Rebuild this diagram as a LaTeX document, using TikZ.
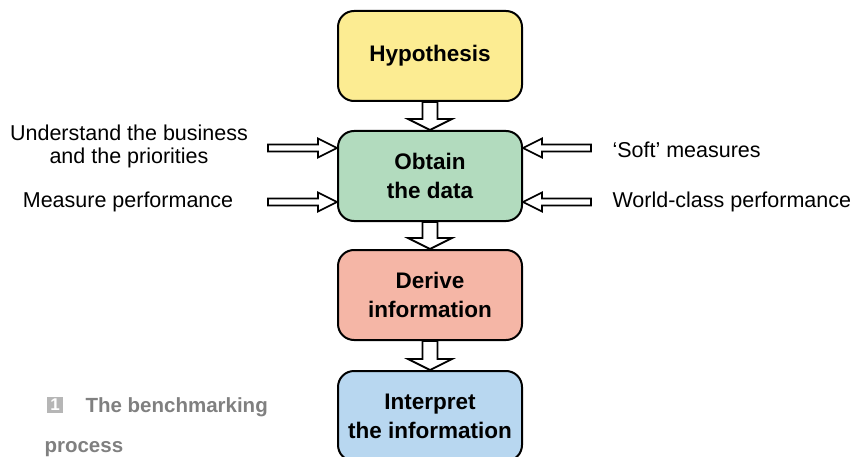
\documentclass[tikz,border=0pt]{standalone}
\usepackage{fontspec}
\setmainfont{Liberation Sans}
\usetikzlibrary{calc}

\definecolor{hypyellow}{RGB}{252,236,146}
\definecolor{datagreen}{RGB}{178,219,190}
\definecolor{derivered}{RGB}{245,182,166}
\definecolor{interpblue}{RGB}{184,215,240}
\definecolor{capgray}{RGB}{128,128,128}
\definecolor{numgray}{RGB}{182,182,182}

\def\bX{430}
\def\bW{184}
\def\bH{90}

\tikzset{
  stage/.style={draw=black, line width=2pt, rounded corners=16pt,
    minimum width=\bW pt, minimum height=\bH pt, align=center,
    font=\fontsize{22.5}{29}\selectfont\bfseries},
  side/.style={align=center, font=\fontsize{21.5}{23}\selectfont},
  blk/.style n args={4}{draw=black, fill=white, line width=#1, line join=miter,
    to path={let \p1=($(\tikztotarget)!#4!(\tikztostart)$) in
      ($(\tikztostart)!#2!90:(\tikztotarget)$) -- ($(\p1)!#2!-90:(\tikztostart)$)
      -- ($(\p1)!#3!-90:(\tikztostart)$) -- (\tikztotarget)
      -- ($(\p1)!#3!90:(\tikztostart)$) -- ($(\p1)!#2!90:(\tikztostart)$)
      -- ($(\tikztostart)!#2!-90:(\tikztotarget)$) -- cycle}},
  down/.style={blk={1.8pt}{7.5pt}{22pt}{11pt}},
  sidearrow/.style={blk={1.6pt}{3.5pt}{9.5pt}{19pt}},
}

\begin{document}
\begin{tikzpicture}[x=1pt, y=-1pt]
    \useasboundingbox (0,0) rectangle (853,457);

    %%   stages
    \node[stage, fill=hypyellow]  (H) at (\bX, 56) {Hypothesis};
    \node[stage, fill=datagreen]  (O) at (\bX,176) {Obtain\\the data};
    \node[stage, fill=derivered]  (D) at (\bX,295) {Derive\\information};
    \node[stage, fill=interpblue] (I) at (\bX,416) {Interpret\\the information};

    \path[down] (H.south) to (O.north);
    \path[down] (O.south) to (D.north);
    \path[down] (D.south) to (I.north);

    %%   inputs
    \node[side]             (tU) at (129,146) {Understand the business\\and the priorities};
    \node[side]             (tM) at (128,202) {Measure performance};
    \node[side, anchor=west] (tS) at (609,150) {‘Soft’ measures};
    \node[side, anchor=west] (tW) at (609,202) {World-class performance};

    \coordinate (L1) at (268,148);
    \coordinate (L2) at (268,202);
    \coordinate (R1) at (591,148);
    \coordinate (R2) at (591,202);

    \coordinate (OL1) at (O.west |- L1);
    \coordinate (OL2) at (O.west |- L2);
    \coordinate (OR1) at (O.east |- R1);
    \coordinate (OR2) at (O.east |- R2);

    \path[sidearrow] (L1) to (OL1);
    \path[sidearrow] (L2) to (OL2);
    \path[sidearrow] (R1) to (OR1);
    \path[sidearrow] (R2) to (OR2);

    %%   caption
    \node[fill=numgray, text=white, minimum size=16pt, inner sep=0pt,
          font=\fontsize{17}{17}\selectfont\bfseries] (num) at (55,405) {1};
    \node[anchor=base west, text=capgray, font=\fontsize{20.5}{24}\selectfont\bfseries]
          (cap1) at (82,412) {The benchmarking};
    \node[anchor=base west, text=capgray, font=\fontsize{20.5}{24}\selectfont\bfseries]
          (cap2) at (41,452) {process};

  \end{tikzpicture}
\end{document}
